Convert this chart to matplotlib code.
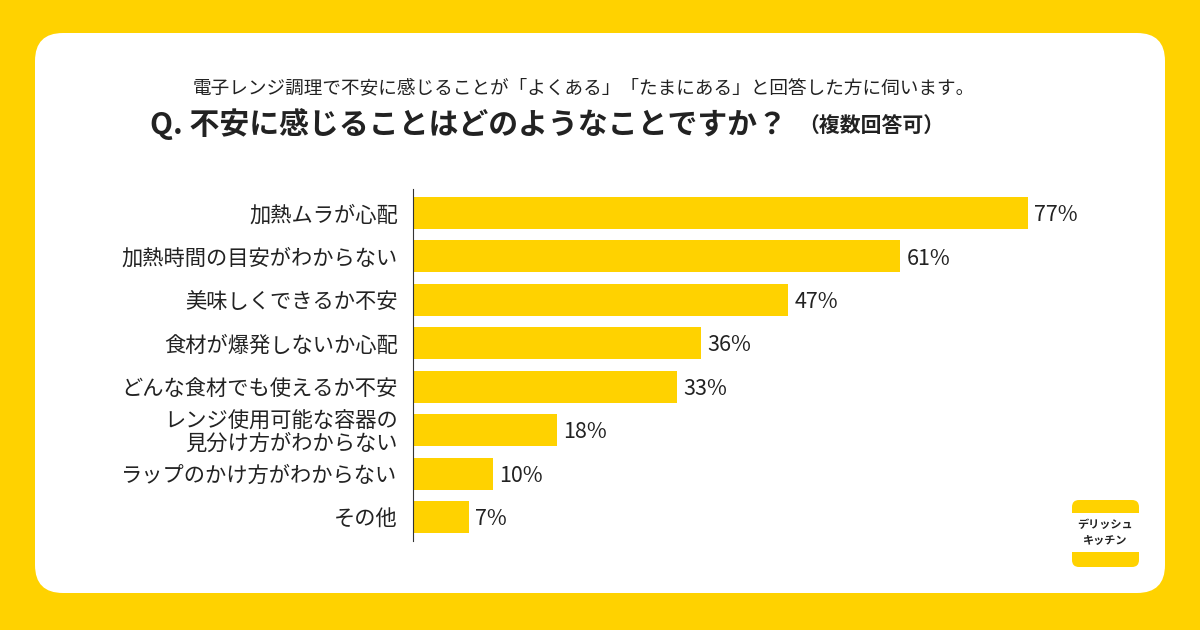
import matplotlib
matplotlib.use("Agg")
import matplotlib.pyplot as plt
from matplotlib.patches import FancyBboxPatch

plt.rcParams['font.family'] = ['Noto Sans CJK JP', 'DejaVu Sans']

# data
categories = [
    "加熱ムラが心配",
    "加熱時間の目安がわからない",
    "美味しくできるか不安",
    "食材が爆発しないか心配",
    "どんな食材でも使えるか不安",
    "レンジ使用可能な容器の\n見分け方がわからない",
    "ラップのかけ方がわからない",
    "その他",
]
values = [77, 61, 47, 36, 33, 18, 10, 7]

subtitle = "電子レンジ調理で不安に感じることが「よくある」「たまにある」と回答した方に伺います。"
question = "Q. 不安に感じることはどのようなことですか？"
note = "（複数回答可）"

YELLOW = "#FFD200"
TEXT = "#222222"

fig = plt.figure(figsize=(12, 6.3), dpi=100)
fig.patch.set_facecolor(YELLOW)

# background card in pixel coordinates
bg = fig.add_axes([0, 0, 1, 1])
bg.set_xlim(0, 1200)
bg.set_ylim(630, 0)
bg.axis("off")
bg.add_patch(FancyBboxPatch((35, 33), 1130, 560,
                            boxstyle="round,pad=0,rounding_size=28",
                            fc="white", ec="none"))

# logo
bg.add_patch(FancyBboxPatch((1072, 500), 67, 67,
                            boxstyle="round,pad=0,rounding_size=7",
                            fc=YELLOW, ec="none"))
bg.add_patch(plt.Rectangle((1072, 513), 67, 39, fc="white", ec="none"))
bg.text(1105.5, 532.5, "デリッシュ\nキッチン", ha="center", va="center",
        fontsize=8, fontweight="bold", color=TEXT, linespacing=1.3)

# titles
bg.text(584, 88, subtitle, ha="center", va="center", fontsize=13.4, color=TEXT)
bg.text(150, 124, question, ha="left", va="center", fontsize=21.5,
        fontweight="bold", color=TEXT)
bg.text(798, 126, note, ha="left", va="center", fontsize=15,
        fontweight="bold", color=TEXT)

# bar chart
xmax = 90
left_px, zero_to77_px = 413, 1028 - 413
width_px = zero_to77_px / 77 * xmax
ax = fig.add_axes([left_px / 1200, (630 - 541) / 630, width_px / 1200, 352 / 630])
ax.set_facecolor("none")
pos = list(range(len(categories)))
ax.barh(pos, values, height=0.74, color=YELLOW)
ax.set_ylim(len(categories) - 0.45, -0.55)
ax.set_xlim(0, xmax)
ax.set_yticks(pos)
ax.set_yticklabels(categories, fontsize=15.3, color=TEXT, linespacing=1.0)
ax.tick_params(axis="y", length=0, pad=11)
ax.set_xticks([])
for s in ["top", "right", "bottom"]:
    ax.spines[s].set_visible(False)
ax.spines["left"].set_color("#333333")
ax.spines["left"].set_linewidth(0.8)

for p, v in zip(pos, values):
    ax.text(v + 0.8, p + 0.05, f"{v}%", ha="left", va="center",
            fontsize=15.5, color=TEXT)

fig.savefig("out.png", dpi=100, facecolor=fig.get_facecolor())
